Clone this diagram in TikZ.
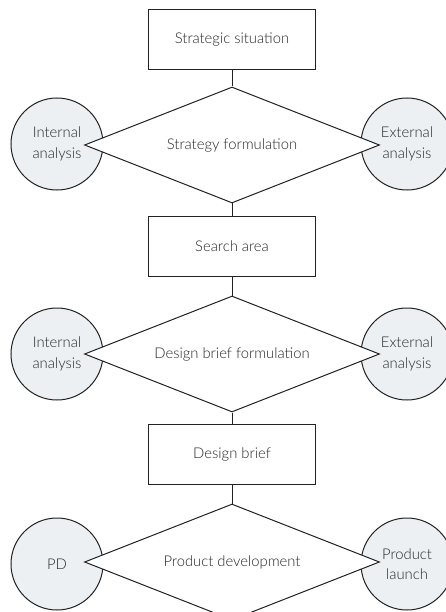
\documentclass[tikz,border=0pt]{standalone}
\usepackage{fontspec}
\setmainfont{Lato}[UprightFont=* Light]
\usetikzlibrary{shapes.geometric}
\definecolor{ink}{HTML}{222222}
\definecolor{txt}{HTML}{262626}
\definecolor{bubble}{HTML}{EDF0F2}
\begin{document}
\begin{tikzpicture}[x=1pt,y=-1pt,
  every node/.style={font=\fontsize{14.8}{20.5}\selectfont, text=txt},
  stage/.style={draw=ink, line width=1pt, fill=white, rectangle,
    minimum width=167pt, minimum height=60pt, inner sep=0pt},
  decision/.style={draw=ink, line width=1pt, fill=white, diamond,
    aspect=2.54, minimum width=295pt, minimum height=116pt, inner sep=0pt},
  factor/.style={draw=ink, line width=1pt, fill=bubble, circle,
    minimum size=92pt, inner sep=0pt, align=center},
  link/.style={draw=ink, line width=1pt}]
\useasboundingbox (0,0) rectangle (446,612);

% external factors sit behind the decision diamonds
\node[factor] (int1) at (57,144) {Internal\\analysis};
\node[factor] (ext1) at (407,144) {External\\analysis};
\node[factor] (int2) at (57,354) {Internal\\analysis};
\node[factor] (ext2) at (407,354) {External\\analysis};
\node[factor] (pd)   at (57,564) {PD};
\node[factor] (pl)   at (407,564) {Product\\launch};

% main flow
\node[stage] (sit) at (232,39.5) {Strategic situation};
\node[decision] (sf) at (232,145) {Strategy formulation};
\node[stage] (sa) at (232,246.5) {Search area};
\node[decision] (dbf) at (232,354) {Design brief formulation};
\node[stage] (db) at (232,454.5) {Design brief};
\node[decision] (pdv) at (232,562) {Product development};

\draw[link] (sit.south) -- (sf.north);
\draw[link] (sf.south) -- (sa.north);
\draw[link] (sa.south) -- (dbf.north);
\draw[link] (dbf.south) -- (db.north);
\draw[link] (db.south) -- (pdv.north);
\end{tikzpicture}
\end{document}
